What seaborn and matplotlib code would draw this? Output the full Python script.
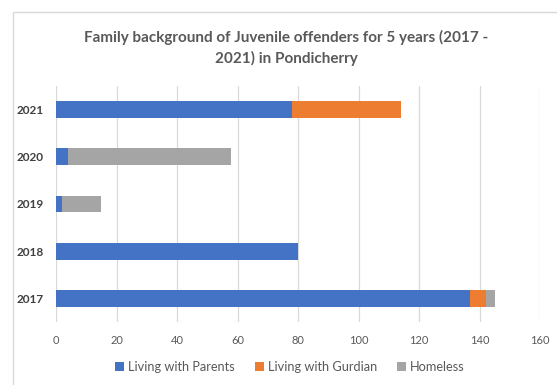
import matplotlib
matplotlib.use("Agg")
import matplotlib.pyplot as plt
from matplotlib.patches import Rectangle, Patch
import seaborn as sns
import pandas as pd

years = ["2021", "2020", "2019", "2018", "2017"]
parents = [78, 4, 2, 80, 137]
guardian = [36, 0, 0, 0, 5]
homeless = [0, 54, 13, 0, 3]
series_names = ["Living with Parents", "Living with Gurdian", "Homeless"]
colors = ["#4472C4", "#ED7D31", "#A5A5A5"]
xticks = [0, 20, 40, 60, 80, 100, 120, 140, 160]

sns.set_theme(style="white")
plt.rcParams["font.family"] = ["Lato", "DejaVu Sans"]

W, H = 557, 385
fig = plt.figure(figsize=(W / 100, H / 100), dpi=100)
ax = fig.add_axes([56 / W, (H - 322) / H, (540 - 56) / W, (322 - 86) / H])

df = pd.DataFrame({"year": years, "p": parents, "g": guardian, "h": homeless})
df["pg"] = df["p"] + df["g"]
df["pgh"] = df["pg"] + df["h"]

# stacked bars drawn as overlapping cumulative totals
for col, c in zip(["pgh", "pg", "p"], colors[::-1]):
    sns.barplot(data=df, x=col, y="year", order=years, color=c, width=0.36,
                saturation=1, orient="h", ax=ax, zorder=3, linewidth=0)

ax.set_xlim(0, 160)
ax.set_ylim(4.5, -0.5)
ax.set_xticks(xticks)
ax.set_xticklabels([str(t) for t in xticks], color="#595959", fontsize=8)
ax.set_yticks(range(len(years)))
ax.set_yticklabels(years, color="#404040", fontsize=8.5, fontweight="bold")
ax.tick_params(axis="x", length=0, pad=9)
ax.tick_params(axis="y", length=0, pad=9)
ax.set_xlabel("")
ax.set_ylabel("")
ax.grid(axis="x", color="#D9D9D9", linewidth=0.9, zorder=0)
ax.set_axisbelow(True)
for s in ax.spines.values():
    s.set_visible(False)

fig.text(286 / W, 1 - 37 / H, "Family background of Juvenile offenders for 5 years (2017 -",
         ha="center", va="center", fontsize=11, fontweight="bold", color="#595959")
fig.text(286 / W, 1 - 58 / H, "2021) in Pondicherry",
         ha="center", va="center", fontsize=11, fontweight="bold", color="#595959")

handles = [Patch(facecolor=c, edgecolor="none") for c in colors]
fig.legend(handles, series_names, loc="center", bbox_to_anchor=(290 / W, 1 - 367 / H),
           ncol=3, frameon=False, fontsize=9.2, handlelength=0.7, handleheight=0.7,
           handletextpad=0.3, columnspacing=1.6, labelcolor="#595959")

fig.patches.append(Rectangle((13 / W, -0.05), 1.0, 1 - 12 / H + 0.05,
                             transform=fig.transFigure, fill=False,
                             edgecolor="#D9D9D9", linewidth=1.0))

fig.savefig("out.png", dpi=100)
